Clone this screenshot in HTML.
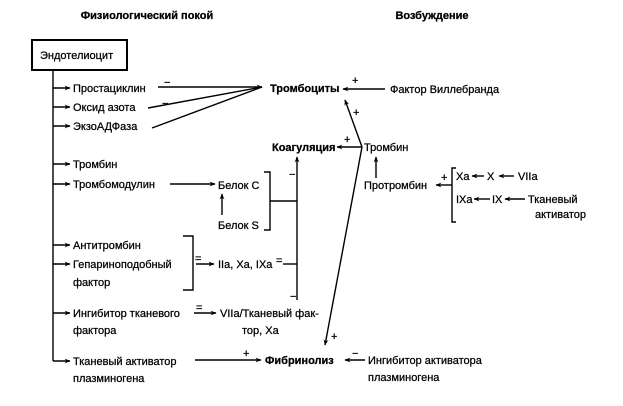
<!DOCTYPE html>
<html><head><meta charset="utf-8"><style>
html,body{margin:0;padding:0;background:#fff;}
svg{display:block;}
text{font-family:"Liberation Sans","DejaVu Sans",sans-serif;font-size:11px;fill:#000;stroke:#000;stroke-width:0.25;}
.b{font-weight:bold;}
</style></head><body>
<svg width="623" height="406" viewBox="0 0 623 406" xmlns="http://www.w3.org/2000/svg">
<defs>
<marker id="a" viewBox="0 0 10 10" refX="9" refY="5" markerWidth="7" markerHeight="6" orient="auto-start-reverse" markerUnits="userSpaceOnUse"><path d="M0,1 L10,5 L0,9 L3,5 z" fill="#000"/></marker>
</defs>
<g stroke="#000" stroke-width="1.4" fill="none">
<rect x="32" y="40" width="95" height="30" stroke-width="2"/>
<line x1="53" y1="70" x2="53" y2="361"/>
<line x1="53" y1="88" x2="70" y2="88" marker-end="url(#a)"/>
<line x1="53" y1="107" x2="70" y2="107" marker-end="url(#a)"/>
<line x1="53" y1="126" x2="70" y2="126" marker-end="url(#a)"/>
<line x1="53" y1="164" x2="70" y2="164" marker-end="url(#a)"/>
<line x1="53" y1="184" x2="70" y2="184" marker-end="url(#a)"/>
<line x1="53" y1="245" x2="70" y2="245" marker-end="url(#a)"/>
<line x1="53" y1="264" x2="70" y2="264" marker-end="url(#a)"/>
<line x1="53" y1="313" x2="70" y2="313" marker-end="url(#a)"/>
<line x1="53" y1="361" x2="70" y2="361" marker-end="url(#a)"/>
<line x1="158" y1="87" x2="262" y2="87" marker-end="url(#a)"/>
<line x1="148" y1="108" x2="262" y2="87"/>
<line x1="152" y1="128" x2="262" y2="87"/>
<line x1="385" y1="89" x2="343" y2="89" marker-end="url(#a)"/>
<line x1="362" y1="147" x2="345" y2="100" marker-end="url(#a)"/>
<line x1="362" y1="147" x2="325" y2="345" marker-end="url(#a)"/>
<line x1="362" y1="147" x2="337" y2="147" marker-end="url(#a)"/>
<line x1="376" y1="178" x2="376" y2="157" marker-end="url(#a)"/>
<path d="M456,168 L452,168 L452,222 L456,222"/>
<line x1="452" y1="185" x2="436" y2="185" marker-end="url(#a)"/>
<line x1="484" y1="176" x2="472" y2="176" marker-end="url(#a)"/>
<line x1="514" y1="176" x2="499" y2="176" marker-end="url(#a)"/>
<line x1="490" y1="199" x2="474" y2="199" marker-end="url(#a)"/>
<line x1="525" y1="199" x2="505" y2="199" marker-end="url(#a)"/>
<line x1="170" y1="184" x2="215" y2="184" marker-end="url(#a)"/>
<line x1="222" y1="215" x2="222" y2="194" marker-end="url(#a)"/>
<path d="M264,172 L270,172 L270,230 L264,230"/>
<line x1="270" y1="201" x2="297" y2="201"/>
<line x1="297" y1="300" x2="297" y2="157" marker-end="url(#a)"/>
<path d="M183,236 L193,236 L193,290 L183,290"/>
<line x1="196" y1="264" x2="214" y2="264" marker-end="url(#a)"/>
<line x1="283" y1="264" x2="297" y2="264"/>
<line x1="194" y1="313" x2="216" y2="313" marker-end="url(#a)"/>
<line x1="195" y1="360" x2="261" y2="360" marker-end="url(#a)"/>
<line x1="365" y1="360" x2="345" y2="360" marker-end="url(#a)"/>
</g>
<text x="147" y="19" text-anchor="middle" class="b">Физиологический покой</text>
<text x="432" y="19" text-anchor="middle" class="b">Возбуждение</text>
<text x="40" y="59">Эндотелиоцит</text>
<text x="73" y="92">Простациклин</text>
<text x="73" y="111">Оксид азота</text>
<text x="73" y="130">ЭкзоАДФаза</text>
<text x="73" y="168">Тромбин</text>
<text x="73" y="188">Тромбомодулин</text>
<text x="73" y="249">Антитромбин</text>
<text x="73" y="268">Гепариноподобный</text>
<text x="73" y="286">фактор</text>
<text x="73" y="317">Ингибитор тканевого</text>
<text x="73" y="334">фактора</text>
<text x="73" y="365">Тканевый активатор</text>
<text x="73" y="382">плазминогена</text>
<text x="270" y="92" class="b">Тромбоциты</text>
<text x="390" y="93">Фактор Виллебранда</text>
<text x="272" y="151" class="b">Коагуляция</text>
<text x="364" y="151">Тромбин</text>
<text x="364" y="189">Протромбин</text>
<text x="456" y="180">Xa</text>
<text x="487" y="180">X</text>
<text x="518" y="180">VIIa</text>
<text x="456" y="203">IXa</text>
<text x="492" y="203">IX</text>
<text x="528" y="203">Тканевый</text>
<text x="535" y="218">активатор</text>
<text x="218" y="189">Белок С</text>
<text x="218" y="229">Белок S</text>
<text x="218" y="268">IIa, Xa, IXa</text>
<text x="220" y="317">VIIa/Тканевый фак-</text>
<text x="242" y="334">тор, Ха</text>
<text x="265" y="364" class="b">Фибринолиз</text>
<text x="368" y="364">Ингибитор активатора</text>
<text x="368" y="381">плазминогена</text>
<text x="352" y="84">+</text>
<text x="353" y="116">+</text>
<text x="344" y="143">+</text>
<text x="441" y="181">+</text>
<text x="243" y="357">+</text>
<text x="331" y="340">+</text>
<text x="164" y="86">−</text>
<text x="162" y="107">−</text>
<text x="289" y="178">−</text>
<text x="290" y="300">−</text>
<text x="352" y="357">−</text>
<text x="195" y="262">=</text>
<text x="276" y="264">=</text>
<text x="196" y="311">=</text>
</svg>
</body></html>
